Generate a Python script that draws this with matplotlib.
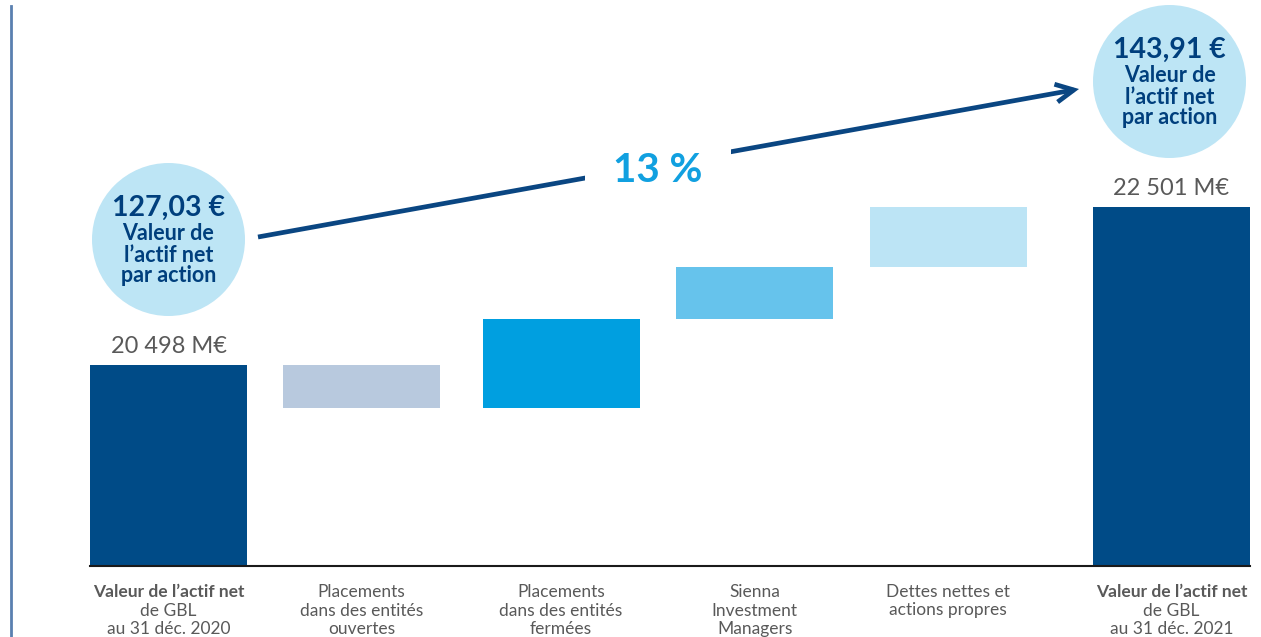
import matplotlib.pyplot as plt
import matplotlib.transforms as mtransforms
from matplotlib.patches import Circle

plt.rcParams['font.family'] = ['Lato', 'DejaVu Sans']

# Data (M€)
start_value = 20498
changes = [-540, 1120, 665, 758]
end_value = 22501
value_labels = ["20 498 M€", "22 501 M€"]
nav_start = "127,03 €"
nav_end = "143,91 €"
growth = "13 %"

# category labels, one entry per line: (text, bold)
cat_lines = [
    [("Valeur de l’actif net", True), ("de GBL", False), ("au 31 déc. 2020", False)],
    [("Placements", False), ("dans des entités", False), ("ouvertes", False)],
    [("Placements", False), ("dans des entités", False), ("fermées", False)],
    [("Sienna", False), ("Investment", False), ("Managers", False)],
    [("Dettes nettes et", False), ("actions propres", False)],
    [("Valeur de l’actif net", True), ("de GBL", False), ("au 31 déc. 2021", False)],
]

# layout / style
xpos = [0, 0.99, 2.012, 3.004, 3.995, 5.14]
width = 0.805
colors = ['#004b87', '#b8c9de', '#009fe0', '#66c3ec', '#bce4f5', '#004b87']
dark = '#003f7d'
gray = '#595959'

# waterfall geometry
bottoms = [0]
heights = [start_value]
level = start_value
for c in changes:
    if c < 0:
        bottoms.append(level + c)
        heights.append(-c)
    else:
        bottoms.append(level)
        heights.append(c)
    level += c
bottoms.append(0)
heights.append(end_value)

W, H = 1261, 637
fig = plt.figure(figsize=(W / 100, H / 100), dpi=100)
ax = fig.add_axes([90 / W, (H - 566) / H, 1160 / W, 566 / H])
ybase = 17950
ax.bar(xpos, heights, width=width, bottom=bottoms, color=colors, zorder=2)
ax.set_xlim(-width / 2, xpos[-1] + width / 2)
ax.set_ylim(ybase, ybase + 566 * 12.677)
for s in ['top', 'right', 'left']:
    ax.spines[s].set_visible(False)
ax.spines['bottom'].set_color('#1a1a1a')
ax.spines['bottom'].set_linewidth(1.5)
ax.set_xticks([])
ax.set_yticks([])

# value labels over the totals
for i, lab in zip([0, 5], value_labels):
    ax.annotate(lab, xy=(xpos[i], bottoms[i] + heights[i]), xytext=(0, 12),
                textcoords='offset pixels', ha='center', va='baseline',
                fontsize=17, color=gray)

# overlay in pixel coordinates for decorations
ov = fig.add_axes([0, 0, 1, 1], zorder=3)
ov.set_xlim(0, W)
ov.set_ylim(H, 0)
ov.axis('off')
ov.patch.set_alpha(0)

ov.plot([11, 11], [6, H], color='#5a80b0', lw=2)

# category labels
blend = mtransforms.blended_transform_factory(ax.transData, ov.transData)
for x, lines in zip(xpos, cat_lines):
    for j, (txt, bold) in enumerate(lines):
        ov.text(x, 597 + j * 18.5, txt, transform=blend, ha='center', va='baseline',
                fontsize=12.5, color=gray, fontweight='bold' if bold else 'normal')

# NAV per share circles
for (cx, cy), val in [((168.5, 239.5), nav_start), ((1169.5, 81.5), nav_end)]:
    ov.add_patch(Circle((cx, cy), 76.5, color='#bde5f5', lw=0))
    ov.text(cx, cy - 31.5, val, ha='center', va='center', fontsize=20.5,
            fontweight='bold', color=dark)
    for k, t in enumerate(["Valeur de", "l’actif net", "par action"]):
        ov.text(cx, cy - 5.5 + 21 * k, t, ha='center', va='center', fontsize=15.5,
                fontweight='bold', color=dark)

# growth arrow
ov.annotate('', xy=(1079, 89), xytext=(258, 237),
            arrowprops=dict(arrowstyle='->,head_length=1.3,head_width=0.65',
                            color='#0a4682', lw=3.4, shrinkA=0, shrinkB=0,
                            joinstyle='miter', capstyle='butt'))
ov.text(658, 170, growth, ha='center', va='center', fontsize=29, fontweight='bold',
        color='#11a0e0',
        bbox=dict(boxstyle='square,pad=0.7', fc='white', ec='none'))

fig.savefig('out.png', dpi=100)
